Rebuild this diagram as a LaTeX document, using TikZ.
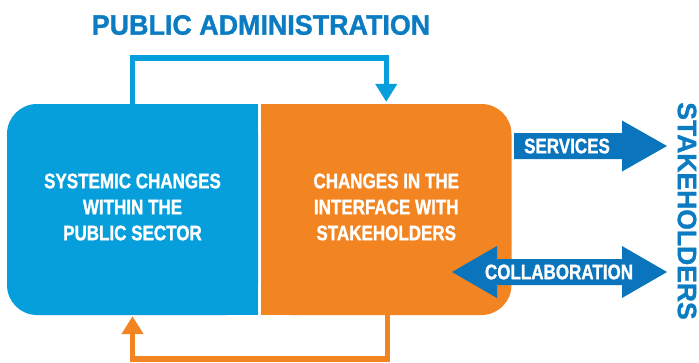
\documentclass[tikz,border=0pt]{standalone}
\usepackage{fontspec}
\setmainfont{Liberation Sans}[BoldFont={Liberation Sans Bold}, BoldFeatures={FakeBold=1.2}]
\newfontfamily\condensed{Liberation Sans}[FakeStretch=0.81, BoldFont={Liberation Sans Bold}, BoldFeatures={FakeBold=1.2}]
\newfontfamily\headline{Liberation Sans}[FakeStretch=0.96, BoldFont={Liberation Sans Bold}, BoldFeatures={FakeBold=1.2}]
\usetikzlibrary{arrows.meta}
\definecolor{sectorblue}{HTML}{079FDB}
\definecolor{interfaceorange}{HTML}{F38422}
\definecolor{arrowblue}{HTML}{0A75BD}
\definecolor{titleblue}{HTML}{0B7CC2}
\tikzset{
    panel/.style={rectangle, rounded corners=30pt, minimum width=251pt, minimum height=211pt, inner sep=0pt},
    paneltext/.style={align=center, text=white, font=\condensed\bfseries\fontsize{21}{26}\selectfont},
    feedback/.style={line width=5.5pt, -{Triangle[width=21pt, length=18pt]}},
    flowlabel/.style={text=white, inner sep=0pt, font=\condensed\bfseries\fontsize{21}{25}\selectfont}
}

\begin{document}
\begin{tikzpicture}[x=1pt, y=-1pt]
\useasboundingbox (0,0) rectangle (699,362);
\node[font=\headline\bfseries\fontsize{28}{32}\selectfont, text=titleblue] (admin) at (261,25) {PUBLIC ADMINISTRATION};
\node[panel, fill=sectorblue] (sector) at (132.5,209.5) {};
\fill[sectorblue] (sector.north) rectangle (sector.south east);
\node[panel, fill=interfaceorange, minimum width=250.5pt] (interface) at (386.25,209.5) {};
\fill[interfaceorange] (interface.north west) rectangle (interface.south);
\node[paneltext] (sectortext) at (sector.center) [yshift=2.5pt] {SYSTEMIC CHANGES\\WITHIN THE\\PUBLIC SECTOR};
\node[paneltext] (interfacetext) at (interface.center) [yshift=2.5pt] {CHANGES IN THE\\INTERFACE WITH\\STAKEHOLDERS};
\draw[feedback, sectorblue] (sector.north) -- ++(0,-46) -| ([yshift=2pt]interface.north);
\draw[feedback, interfaceorange] ([xshift=1pt]interface.south) -- ++(0,44) -| ([yshift=-1pt]sector.south);
% outgoing and two-way flows
\fill[arrowblue] (514,133) -- (622,133) -- (622,120.5) -- (667,146) -- (622,171.5) -- (622,159) -- (514,159) -- cycle;
\node[flowlabel] (services) at (567,146) {SERVICES};
\fill[arrowblue] (452,272) -- (497,246) -- (497,259) -- (622,259) -- (622,246) -- (667,272) -- (622,298) -- (622,285) -- (497,285) -- (497,298) -- cycle;
\node[flowlabel] (collab) at (559,272) {COLLABORATION};
\node[rotate=-90, font=\bfseries\fontsize{26.5}{30}\selectfont, text=titleblue] (stakeholders) at (687,211) {STAKEHOLDERS};
\end{tikzpicture}
\end{document}
